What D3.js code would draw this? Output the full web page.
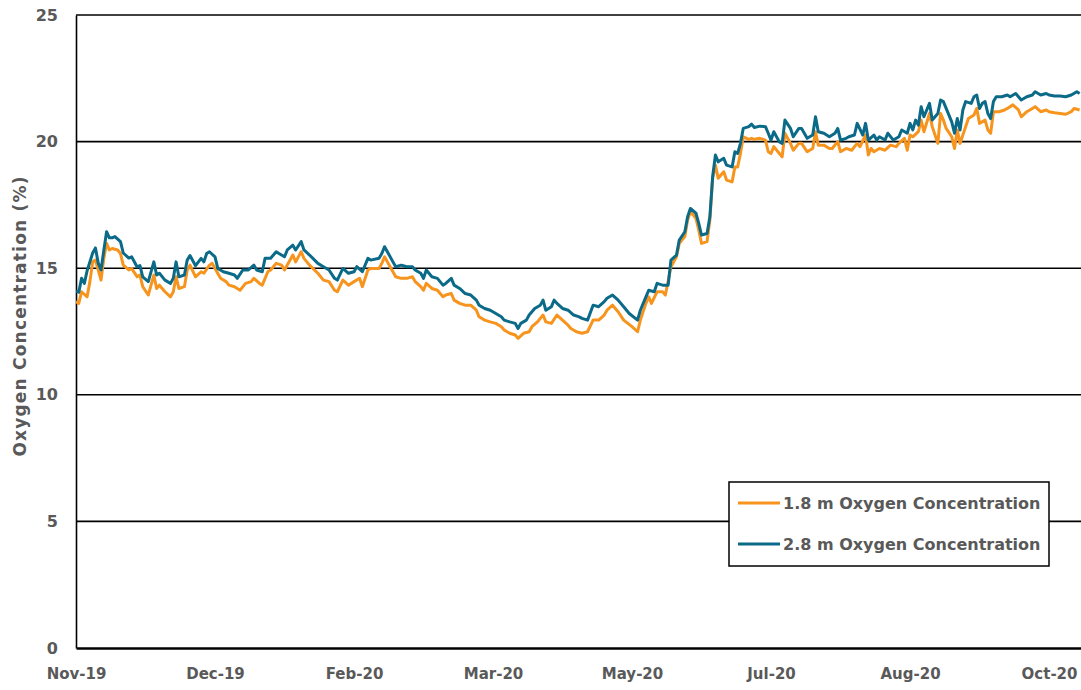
<!DOCTYPE html>
<html><head><meta charset="utf-8">
<script src="https://cdn.jsdelivr.net/npm/d3@7"></script>
<style>
body{margin:0;background:#fff;}
text{font-family:"DejaVu Sans",sans-serif;font-weight:bold;fill:#595959;}
</style></head><body>
<svg id="c" width="1081" height="690"></svg>
<script>
// Days since 2019-11-01 and values
const startDate = "2019-11-01";
const days28 = [0,1,2,3,4,6,7,8,9,10,11,12,13,14,16,17,19,20,22,23,24,26,28,29,30,32,34,35,36,37,39,40,41,43,45,46,47,48,50,51,53,55,57,58,60,62,64,65,67,68,70,72,73,75,76,78,79,81,82,84,87,89,91,93,94,96,98,100,101,103,105,106,109,110,111,112,114,115,117,119,121,122,124,125,126,128,130,132,133,135,136,138,140,142,144,145,147,149,151,153,154,156,158,159,160,162,163,165,167,168,169,171,172,173,175,177,179,181,182,184,186,188,190,191,193,195,197,199,202,203,205,206,208,209,211,213,214,216,217,219,220,221,223,224,225,227,228,229,230,231,233,234,236,237,238,239,240,242,243,244,246,248,249,250,251,253,254,255,257,258,260,261,263,265,266,267,269,271,273,274,275,277,278,280,281,283,284,285,287,288,289,291,292,294,296,297,299,300,301,302,303,304,305,307,308,310,311,312,313,315,316,317,318,319,320,322,323,324,325,326,327,328,329,330,331,333,335,336,338,340,342,344,345,347,349,350,352,354,356,358,360,361];
const values28 = [14.1,14.05,14.6,14.4,14.9,15.6,15.8,15.2,14.93,15.7,16.44,16.2,16.2,16.25,16.05,15.6,15.4,15.45,15.05,15.1,14.66,14.47,15.25,14.73,14.8,14.53,14.4,14.6,15.25,14.66,14.73,15.32,15.5,15.1,15.39,15.25,15.58,15.65,15.45,14.99,14.86,14.8,14.73,14.6,14.93,14.93,15.12,14.93,14.86,15.39,15.39,15.65,15.58,15.45,15.72,15.91,15.72,16.05,15.72,15.52,15.19,15.06,14.93,14.6,14.53,14.99,14.8,14.86,15.06,14.86,15.39,15.32,15.39,15.58,15.85,15.65,15.25,15.06,15.12,15.06,15.06,14.93,14.8,14.6,14.93,14.66,14.6,14.33,14.4,14.6,14.33,14.2,14.0,13.94,13.74,13.54,13.41,13.34,13.21,13.08,12.95,12.88,12.82,12.62,12.82,12.95,13.15,13.41,13.54,13.74,13.34,13.48,13.74,13.61,13.41,13.34,13.15,13.08,13.02,12.95,13.54,13.48,13.68,13.81,13.94,13.74,13.48,13.21,12.95,13.34,13.87,14.13,14.07,14.4,14.33,14.33,15.32,15.52,16.11,16.44,17.03,17.36,17.17,16.77,16.31,16.37,17.03,18.61,19.47,19.2,19.34,19.07,19.0,19.6,19.53,19.93,20.52,20.59,20.69,20.56,20.61,20.59,20.33,20.06,20.39,19.99,19.93,20.85,20.52,20.19,20.52,20.52,20.13,20.26,20.98,20.39,20.33,20.19,20.33,20.52,20.06,20.13,20.19,20.26,20.72,20.26,20.72,20.06,20.26,20.06,20.19,20.06,20.33,20.06,20.19,20.46,20.33,20.72,20.46,20.85,20.65,21.38,20.98,21.51,20.85,21.11,21.64,21.58,21.31,20.78,20.33,20.91,20.46,21.25,21.58,21.51,21.77,21.84,21.31,21.51,21.58,21.11,20.91,21.58,21.77,21.77,21.84,21.77,21.9,21.64,21.77,21.84,21.97,21.84,21.9,21.84,21.8,21.8,21.77,21.84,21.97,21.9];
const days18 = [0,1,2,4,5,6,7,9,10,11,12,13,15,16,17,19,20,22,23,24,26,28,29,30,32,34,35,36,37,39,40,41,43,45,46,48,49,50,52,54,55,57,59,61,63,64,66,67,69,70,72,74,75,77,78,79,81,82,84,87,89,91,93,94,96,98,100,102,103,105,106,109,110,111,112,114,115,117,119,121,122,124,125,126,128,130,132,133,135,136,138,140,142,144,145,147,149,151,153,154,156,158,159,161,163,164,166,168,169,171,173,175,177,178,180,182,184,186,188,190,191,193,195,197,200,202,203,205,206,207,209,211,212,214,216,217,219,220,221,223,224,225,227,228,229,230,231,233,234,236,237,238,239,240,242,243,244,246,248,249,250,251,253,254,255,257,258,260,261,263,265,266,267,269,271,272,274,275,277,279,281,282,284,285,286,287,289,291,293,295,296,298,299,300,301,303,304,305,307,308,310,311,312,313,315,316,317,318,320,321,323,324,325,327,328,329,330,332,334,335,337,339,340,342,344,345,347,349,350,352,354,356,358,359,361];
const values18 = [13.68,13.61,14.07,13.87,14.47,15.25,15.32,14.53,15.39,15.98,15.72,15.78,15.72,15.58,15.12,14.93,14.99,14.66,14.73,14.27,13.94,14.73,14.2,14.33,14.07,13.87,14.07,14.66,14.2,14.27,14.93,15.12,14.66,14.86,14.8,15.12,15.19,14.99,14.6,14.47,14.33,14.27,14.13,14.4,14.47,14.6,14.4,14.33,14.86,14.93,15.19,15.12,14.93,15.32,15.52,15.25,15.65,15.39,15.12,14.8,14.53,14.47,14.13,14.07,14.53,14.33,14.47,14.6,14.27,14.93,14.99,14.99,15.19,15.45,15.25,14.86,14.66,14.6,14.6,14.66,14.47,14.27,14.13,14.4,14.2,14.13,13.87,13.94,14.0,13.74,13.61,13.54,13.54,13.34,13.08,12.95,12.88,12.82,12.69,12.56,12.43,12.36,12.23,12.43,12.49,12.69,12.88,13.15,12.88,12.82,13.15,12.95,12.75,12.62,12.49,12.43,12.49,12.95,12.95,13.15,13.34,13.54,13.28,12.95,12.69,12.49,12.95,13.61,13.87,13.61,14.07,14.07,13.94,15.06,15.45,15.98,16.25,16.9,17.23,16.97,16.51,15.98,16.05,16.9,18.55,19.07,18.55,18.81,18.48,18.41,19.0,19.0,19.53,20.19,20.09,20.13,20.09,20.13,20.06,19.6,19.53,19.8,19.53,19.4,20.33,19.93,19.66,19.93,19.93,19.6,19.73,20.39,19.86,19.86,19.73,19.73,20.0,19.6,19.73,19.66,19.93,19.8,20.26,19.47,19.73,19.6,19.73,19.66,19.86,19.8,19.93,20.13,19.66,20.26,20.19,20.39,20.85,20.39,21.11,20.59,19.93,21.11,20.85,20.52,20.19,19.73,20.46,19.93,20.59,20.91,21.05,21.31,20.72,20.85,20.46,20.33,21.18,21.18,21.25,21.31,21.45,21.25,20.98,21.18,21.31,21.38,21.18,21.25,21.18,21.14,21.11,21.08,21.18,21.31,21.25];
const seriesNames = ["1.8 m Oxygen Concentration","2.8 m Oxygen Concentration"];
const seriesColors = ["#F7941D","#0B6A87"];
const yTicks = [0,5,10,15,20,25];
const xTickDates = ["2019-11-01","2019-12-21","2020-02-09","2020-03-30","2020-05-19","2020-07-08","2020-08-27","2020-10-16"];
const yTitle = "Oxygen Concentration (%)";

const svg = d3.select("#c");
const M = {l:76, r:0, t:15, b:42};
const W = 1081, H = 690;
const parse = d3.timeParse("%Y-%m-%d");
const t0 = parse(startDate);
const x = d3.scaleTime().domain([t0, d3.timeHour.offset(t0, 361.5*24)]).range([M.l, W - M.r]);
const y = d3.scaleLinear().domain([0,25]).range([H - M.b, M.t]);

// gridlines
svg.append("g").selectAll("line").data(yTicks.filter(d=>d>0)).join("line")
  .attr("x1", M.l).attr("x2", W).attr("y1", d=>y(d)).attr("y2", d=>y(d))
  .attr("stroke","#000").attr("stroke-width",1.6);

// y axis
const ya = svg.append("g").attr("transform",`translate(${M.l},0)`)
  .call(d3.axisLeft(y).tickValues(yTicks).tickSize(0).tickPadding(18));
ya.select(".domain").attr("stroke","#000").attr("stroke-width",1.6);
ya.selectAll("text").attr("font-size",16).attr("fill","#595959").style("font-family","DejaVu Sans").style("font-weight","bold");

// x axis
const xa = svg.append("g").attr("transform",`translate(0,${H-M.b})`)
  .call(d3.axisBottom(x).tickValues(xTickDates.map(parse)).tickFormat(d3.timeFormat("%b-%y")).tickSize(0).tickPadding(20));
xa.select(".domain").attr("stroke","#000").attr("stroke-width",2.6);
xa.selectAll("text").attr("font-size",15).attr("fill","#595959").style("font-family","DejaVu Sans").style("font-weight","bold");

// title
svg.append("text").attr("transform",`translate(26,${316}) rotate(-90)`)
  .attr("text-anchor","middle").attr("font-size",17).attr("letter-spacing",1.2).text(yTitle);

// lines
const line = d3.line().x(d=>x(d3.timeHour.offset(t0, d[0]*24))).y(d=>y(d[1]));
const s18 = days18.map((d,i)=>[d, values18[i]]);
const s28 = days28.map((d,i)=>[d, values28[i]]);
svg.append("defs").append("clipPath").attr("id","clip").append("rect")
  .attr("x",M.l).attr("y",0).attr("width",W-M.l).attr("height",H-M.b);
const g = svg.append("g").attr("clip-path","url(#clip)");
[s18, s28].forEach((s,i)=>{
  g.append("path").datum(s).attr("d",line).attr("fill","none")
   .attr("stroke",seriesColors[i]).attr("stroke-width",3).attr("stroke-linejoin","round");
});

// legend
const lg = svg.append("g");
lg.append("rect").attr("x",729).attr("y",482).attr("width",320).attr("height",84)
  .attr("fill","#fff").attr("stroke","#000").attr("stroke-width",1.5);
seriesNames.forEach((n,i)=>{
  const yy = 503 + i*41;
  lg.append("line").attr("x1",738).attr("x2",780).attr("y1",yy).attr("y2",yy)
    .attr("stroke",seriesColors[i]).attr("stroke-width",3);
  lg.append("text").attr("x",783).attr("y",yy).attr("dy","0.35em").attr("font-size",16).text(n);
});
</script></body></html>
